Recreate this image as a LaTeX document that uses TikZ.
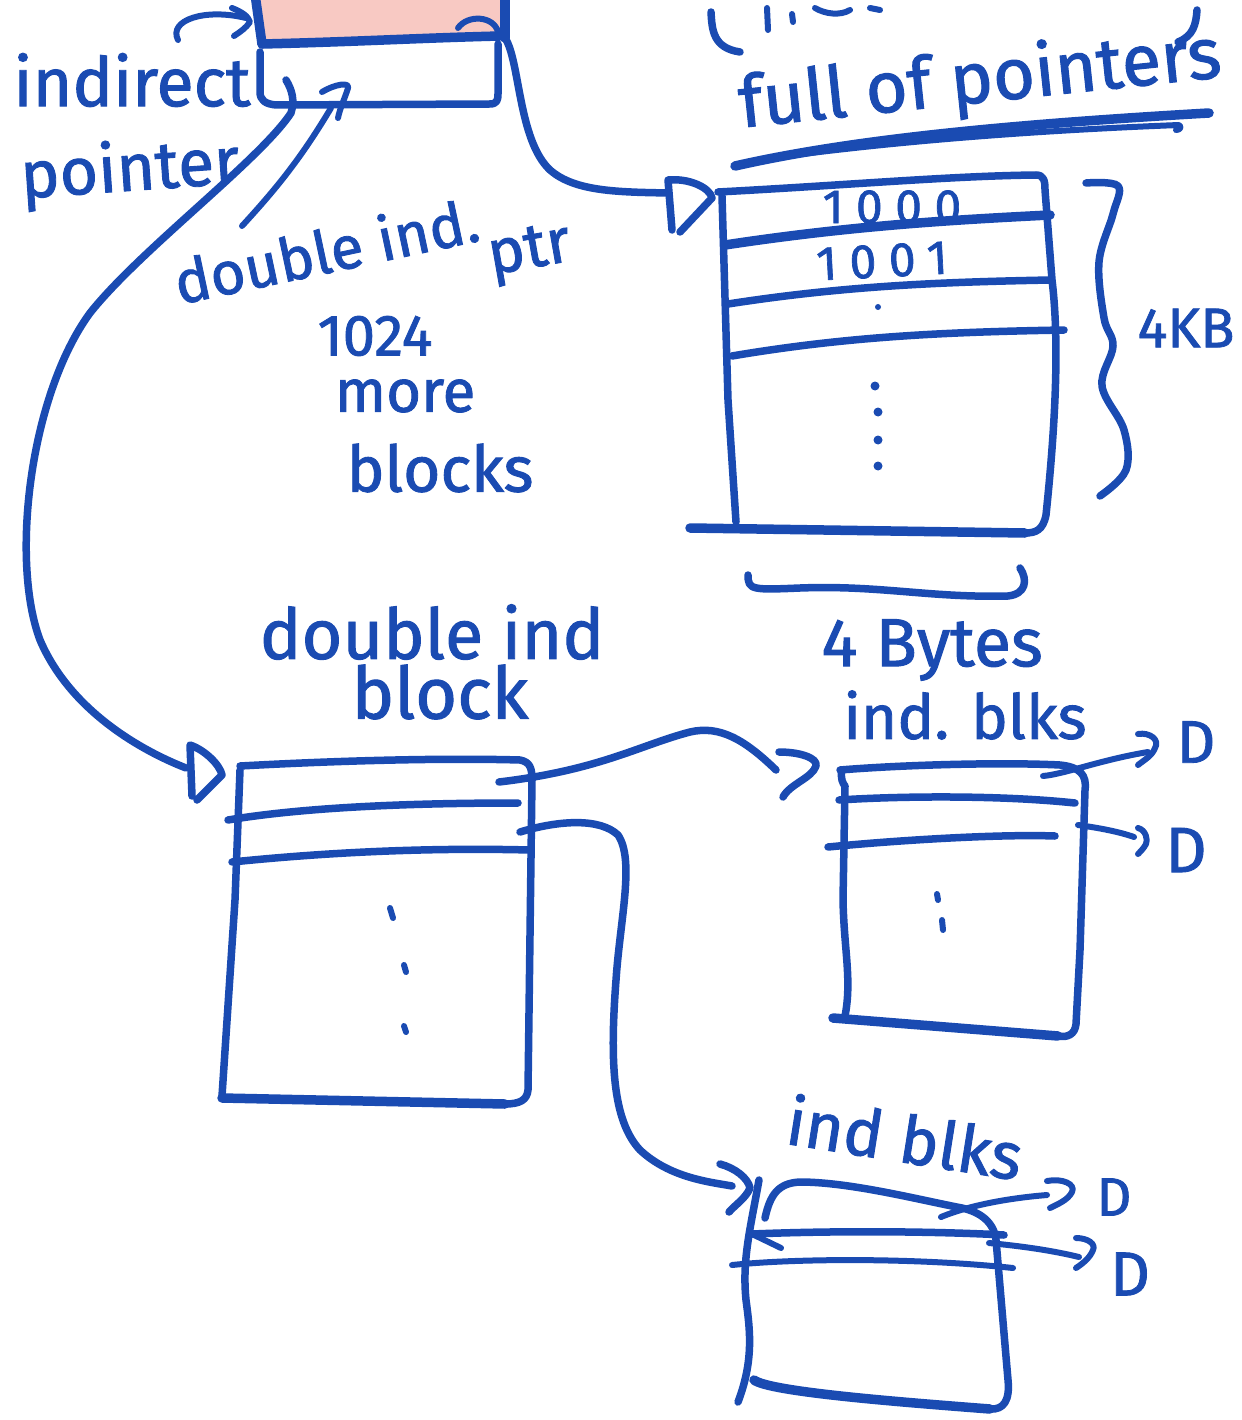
\documentclass[tikz,border=0pt]{standalone}
\usepackage{fontspec}
\setmainfont{Fira Sans}[FakeBold=1.4]
\definecolor{ink}{HTML}{1A4BB2}
\definecolor{rose}{HTML}{F8C9C3}
\begin{document}
\begin{tikzpicture}[x=1pt,y=-1pt,
  pen/.style={draw=ink,line width=7.5pt,line cap=round,line join=round},
  heavy/.style={pen,line width=9.5pt},
  fine/.style={pen,line width=6pt},
  lbl/.style={text=ink,inner sep=0pt,font=\fontsize{#1}{#1}\selectfont},
  lbl/.default=54,
  wide/.style={font=\fontsize{#1}{#1}\selectfont\addfontfeature{LetterSpace=26}},
  dot/.style={fill=ink,circle,inner sep=0pt,minimum size=9pt}]
\useasboundingbox (0,0) rectangle (1241,1420);

% ---------------- inode strip at the top ----------------
\fill[rose] (256,-6) -- (506,-6) -- (505,38) -- (262,45) -- cycle;
\draw[heavy] (255,-6) -- (262,44);
\draw[heavy] (262,44) .. controls (350,42) and (420,38) .. (500,36);
\draw[heavy] (505,-6) -- (505,38);
\draw[pen] (260,52) -- (260,92) .. controls (260,100) and (265,104) .. (276,105)
  -- (490,104) .. controls (497,104) and (498,100) .. (498,94) -- (498,44);
% small curled marks above
\draw[fine] (178,40) .. controls (168,20) and (205,8) .. (246,18);
\draw[fine] (232,8) .. controls (242,12) and (248,16) .. (250,22) .. controls (246,28) and (240,32) .. (234,36);
\draw[fine] (458,28) .. controls (468,14) and (494,16) .. (498,32);

\coordinate (tbR) at (505,38);
\coordinate (indStart) at (286,80);
\coordinate (dblStart) at (331,108);

% ---------------- labels near the inode ----------------
\node[lbl=68] (tIndirect) at (132,80) {indirect};
\node[lbl=66,rotate=4] (tPointer) at (130,172) {pointer};
\node[lbl=60,rotate=12] (tDouble) at (326,250) {double ind.};
\node[lbl=62,rotate=10] (tPtr) at (530,254) {ptr};
\node[lbl=58] (t1024) at (375,336) {1024};
\node[lbl=60] (tMore) at (405,396) {more};
\node[lbl=64] (tBlocks) at (440,468) {blocks};

% ---------------- text at the top right ----------------
\draw[pen] (711,12) .. controls (712,30) and (713,48) .. (740,52);
\draw[pen] (1197,10) .. controls (1196,25) and (1193,36) .. (1178,42);
\draw[fine] (767,8) -- (768,30);
\draw[fine] (792,14) -- (793,22);
\draw[fine] (815,8) .. controls (825,14) and (840,16) .. (850,10);
\draw[fine] (870,8) -- (880,10);
\node[lbl=72,rotate=6] (tFull) at (980,82) {full of pointers};
\draw[heavy] (735,166) .. controls (850,140) and (1000,125) .. (1209,113);
\draw[fine] (758,160) .. controls (900,140) and (1050,130) .. (1179,125) .. controls (1182,127) and (1180,130) .. (1176,130);

% ---------------- block of pointers (top right) ----------------
\draw[pen] (718,192) .. controls (850,185) and (950,176) .. (1036,175)
  .. controls (1044,175) and (1045,181) .. (1045,190)
  -- (1052,280) .. controls (1058,330) and (1058,400) .. (1046,515)
  .. controls (1043,530) and (1036,533) .. (1025,533);
\draw[heavy] (690,528) -- (1025,533);
\draw[pen] (722,196) -- (728,400) -- (736,522);
\draw[heavy] (725,245) .. controls (850,226) and (950,220) .. (1050,215);
\draw[pen] (728,304) .. controls (850,285) and (950,282) .. (1050,280);
\draw[pen] (732,356) .. controls (850,336) and (950,332) .. (1064,330);
\node[lbl,wide=48] (t1000) at (892,207) {1000};
\node[lbl,wide=48,rotate=3] (t1001) at (882,261) {1001};
\node[dot,minimum size=6pt] at (878,307) {};
\node[dot] at (875,386) {};
\node[dot] at (878,412) {};
\node[dot] at (878,440) {};
\node[dot] at (878,466) {};
\coordinate (b1in) at (668,193);

% braces around the block
\draw[pen] plot[smooth,tension=0.6] coordinates {(1086,183) (1118,186) (1113,214) (1099,262) (1104,318) (1113,346) (1102,386) (1124,430) (1126,470) (1100,496)};
\node[lbl=56] (t4KB) at (1186,328) {4KB};
\draw[pen] (748,575) .. controls (748,590) and (752,590) .. (800,588)
  .. controls (880,585) and (930,598) .. (1008,596)
  .. controls (1026,594) and (1028,580) .. (1020,568);
\node[lbl=68] (t4Bytes) at (932,650) {4 Bytes};
\node[lbl=62] (tIndBlks) at (965,715) {ind. blks};

% pointer from the inode to the block of pointers
\draw[pen] (tbR) .. controls (520,60) and (518,140) .. (550,170)
  .. controls (575,192) and (620,192) .. (b1in);
\draw[pen] (672,230) -- (668,180) .. controls (690,178) and (710,188) .. (712,198) -- (680,232);

% ---------------- double indirect block ----------------
\node[lbl=70] (tDoubleInd) at (432,632) {double ind};
\node[lbl=72] (tBlock) at (440,692) {block};
\draw[pen] (240,766) .. controls (350,760) and (450,758) .. (520,760)
  .. controls (530,762) and (532,768) .. (532,780)
  -- (528,1090) .. controls (527,1100) and (520,1104) .. (505,1104);
\draw[heavy] (222,1098) -- (505,1104);
\draw[pen] (240,770) -- (235,900) -- (222,1096);
\draw[pen] (228,820) .. controls (300,808) and (400,803) .. (518,803);
\draw[pen] (232,862) .. controls (350,850) and (450,848) .. (530,850);
\draw[fine] (390,908) -- (393,918);
\draw[fine] (404,965) -- (406,972);
\draw[fine] (404,1026) -- (406,1032);
\coordinate (b2in) at (186,768);
\coordinate (b2r1) at (499,782);
\coordinate (b2r2) at (520,832);

% long pointer from the inode to the double indirect block
\draw[pen] (indStart) .. controls (292,90) and (295,100) .. (291,113)
  .. controls (260,160) and (140,250) .. (90,313)
  .. controls (30,395) and (10,560) .. (40,640)
  .. controls (70,710) and (140,750) .. (b2in);
\draw[pen] (192,796) -- (190,745) .. controls (205,750) and (220,765) .. (222,775) -- (197,800);

% double indirect pointer label line
\draw[fine] (dblStart) .. controls (300,160) and (275,190) .. (242,226);
\draw[fine] (322,92) .. controls (335,84) and (350,82) .. (348,88) .. controls (345,98) and (340,108) .. (338,118);

% ---------------- indirect block (middle right) ----------------
\coordinate (b3in) at (776,770);
\draw[pen] (b2r1) .. controls (600,770) and (640,745) .. (690,732)
  .. controls (720,725) and (745,740) .. (b3in);
\draw[pen] (779,752) .. controls (800,752) and (818,758) .. (816,766) .. controls (812,778) and (790,784) .. (783,797);

\draw[pen] (840,770) .. controls (900,765) and (1000,762) .. (1060,765)
  .. controls (1080,767) and (1087,775) .. (1085,790)
  -- (1080,950) -- (1076,1024) .. controls (1075,1034) and (1068,1038) .. (1058,1036);
\draw[heavy] (833,1018) -- (1058,1036);
\draw[pen] (842,770) .. controls (840,778) and (843,784) .. (845,786)
  -- (843,900) .. controls (844,950) and (852,980) .. (845,1016);
\draw[pen] (839,800) .. controls (900,796) and (1000,795) .. (1075,803);
\draw[pen] (828,847) .. controls (900,840) and (1000,834) .. (1055,836);
\draw[fine] (937,894) -- (938,900);
\draw[fine] (942,920) -- (943,930);

\coordinate (b3r1) at (1043,776);
\coordinate (b3r2) at (1078,825);
\node[lbl=60] (tD1) at (1196,742) {D};
\node[lbl=64] (tD2) at (1186,850) {D};
\draw[fine] (b3r1) .. controls (1065,774) and (1100,760) .. (1148,752);
\draw[fine] (1138,734) .. controls (1150,732) and (1160,740) .. (1155,748) .. controls (1152,756) and (1144,760) .. (1138,765);
\draw[fine] (b3r2) .. controls (1100,828) and (1120,832) .. (1134,837);
\draw[fine] (1138,828) .. controls (1146,830) and (1148,840) .. (1146,844) .. controls (1144,848) and (1140,852) .. (1138,854);

% ---------------- indirect block (bottom) ----------------
\coordinate (b4in) at (732,1186);
\draw[pen] (b2r2) .. controls (560,820) and (600,818) .. (618,835)
  .. controls (635,860) and (620,920) .. (616,980)
  .. controls (610,1060) and (612,1120) .. (640,1150)
  .. controls (670,1178) and (710,1182) .. (b4in);
\draw[pen] (720,1164) .. controls (735,1168) and (748,1178) .. (750,1188) .. controls (746,1198) and (735,1205) .. (729,1212);

\node[lbl=66,rotate=-9] (tIndBlks2) at (905,1137) {ind blks};
\draw[pen] (759,1180) .. controls (750,1230) and (742,1260) .. (746,1300)
  .. controls (750,1330) and (754,1360) .. (738,1402);
\draw[pen] (765,1218) .. controls (770,1195) and (778,1183) .. (800,1182)
  .. controls (850,1182) and (920,1200) .. (962,1208)
  .. controls (980,1212) and (994,1222) .. (996,1240)
  -- (1008,1380) .. controls (1010,1400) and (1004,1410) .. (990,1409);
\draw[heavy] (754,1380) .. controls (770,1392) and (900,1402) .. (990,1409);
\draw[pen] (752,1234) .. controls (850,1230) and (950,1232) .. (1004,1235);
\draw[fine] (752,1234) -- (781,1248);
\draw[fine] (732,1265) .. controls (800,1258) and (920,1258) .. (1013,1268);

\coordinate (b4r1) at (941,1217);
\coordinate (b4r2) at (989,1243);
\node[lbl=54] (tD3) at (1114,1197) {D};
\node[lbl=62] (tD4) at (1130,1274) {D};
\draw[fine] (b4r1) .. controls (970,1205) and (1010,1198) .. (1047,1195);
\draw[fine] (1047,1181) .. controls (1062,1178) and (1076,1184) .. (1072,1192) .. controls (1068,1200) and (1058,1204) .. (1050,1208);
\draw[fine] (b4r2) .. controls (1020,1246) and (1050,1250) .. (1079,1257);
\draw[fine] (1076,1238) .. controls (1088,1238) and (1096,1244) .. (1093,1250) .. controls (1090,1258) and (1082,1264) .. (1076,1268);
\end{tikzpicture}
\end{document}
